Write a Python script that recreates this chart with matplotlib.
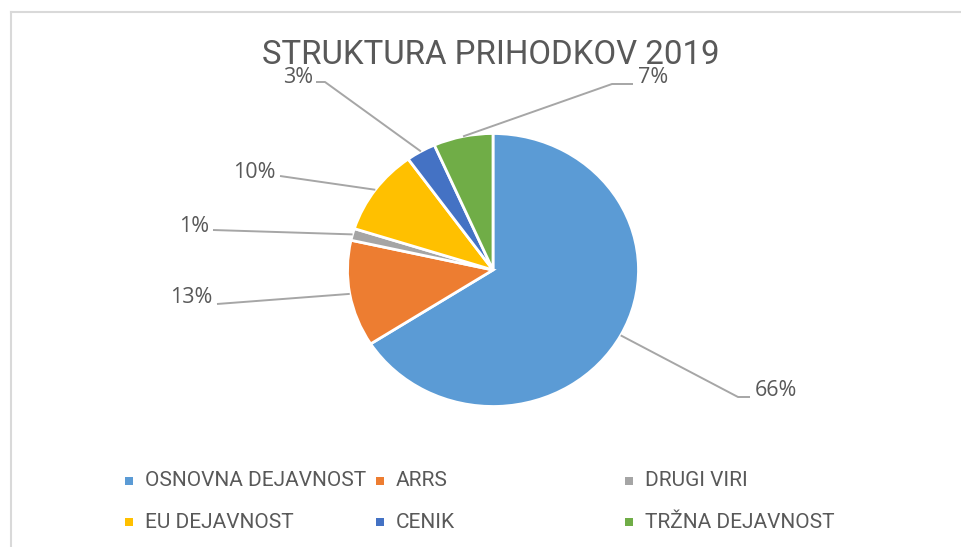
import matplotlib.pyplot as plt
from matplotlib.patches import Rectangle
from matplotlib.lines import Line2D
import numpy as np

# Podatki
kategorije = ['OSNOVNA DEJAVNOST', 'ARRS', 'DRUGI VIRI', 'EU DEJAVNOST', 'CENIK', 'TRŽNA DEJAVNOST']
deleži = [65.9, 12.6, 1.4, 10.2, 3.3, 6.6]
barve = ['#5B9BD5', '#ED7D31', '#A5A5A5', '#FFC000', '#4472C4', '#70AD47']
naslov = 'STRUKTURA PRIHODKOV 2019'

# Postavitev (v pikslih slike 961x547)
W, H = 961, 547
CX, CY = 493, 270          # središče torte
RX, RY = 145.5, 136.5      # polmer (slika je rahlo raztegnjena)

# položaj oznak: (x roba besedila, y središča, poravnava)
oznake_pos = [(755, 390, 'left'), (212, 297, 'right'), (209, 226, 'right'),
              (276, 172, 'right'), (313, 77, 'right'), (638, 77, 'left')]
# lomna točka in konec črte
prelomi = [((738, 397), (750, 397)), ((217, 304), (217, 304)), ((213, 230), (213, 230)),
           ((280, 176), (280, 176)), ((325, 82), (316, 82)), ((612, 84), (633, 84))]

siva = '#595959'
crta = '#A6A6A6'
font_naslov = ['Roboto', 'DejaVu Sans']
font_oznake = ['Open Sans', 'DejaVu Sans']


def px(x, y):
    return (x - CX) / RX, (CY - y) / RY


fig = plt.figure(figsize=(W / 100, H / 100), dpi=100)
ax = fig.add_axes([0, 0, 1, 1])

wedges, _ = ax.pie(deleži, colors=barve, startangle=90, counterclock=False,
                   wedgeprops=dict(edgecolor='white', linewidth=2))
ax.set_aspect('auto')
ax.set_xlim(-CX / RX, (W - CX) / RX)
ax.set_ylim(-(H - CY) / RY, CY / RY)
ax.axis('off')

# oznake z odstotki in povezovalne črte
skupaj = sum(deleži)
for w, d, (tx, ty, ha), (p1, p2) in zip(wedges, deleži, oznake_pos, prelomi):
    kot = np.deg2rad((w.theta1 + w.theta2) / 2)
    x0, y0 = np.cos(kot), np.sin(kot)
    x1, y1 = px(*p1)
    x2, y2 = px(*p2)
    ax.plot([x0, x1, x2], [y0, y1, y2], color=crta, lw=1.4, clip_on=False,
            solid_capstyle='butt')
    lx, ly = px(tx, ty)
    ax.text(lx, ly, f'{d / skupaj * 100:.0f}%', ha=ha, va='center',
            fontsize=15.5, color=siva, family=font_oznake)

# naslov
fig.text(490.5 / W, 1 - 64 / H, naslov, ha='center', va='baseline',
         fontsize=23.8, color=siva, family=font_naslov)

# legenda
leg_x = [129, 380, 629]
leg_y = [481, 522]
for i, (ime, b) in enumerate(zip(kategorije, barve)):
    mx = leg_x[i % 3]
    my = leg_y[i // 3]
    fig.patches.append(Rectangle(((mx - 4) / W, 1 - (my + 4) / H), 8 / W, 8 / H,
                                 transform=fig.transFigure, facecolor=b, edgecolor='none'))
    fig.text((mx + 16) / W, 1 - my / H, ime, ha='left', va='center',
             fontsize=15, color=siva, family=font_naslov)

# okvir grafa (zgoraj in levo)
fig.add_artist(Line2D([11 / W, 1], [1 - 12 / H, 1 - 12 / H], transform=fig.transFigure,
                      color='#D9D9D9', lw=1.5))
fig.add_artist(Line2D([11 / W, 11 / W], [0, 1 - 12 / H], transform=fig.transFigure,
                      color='#D9D9D9', lw=1.5))

plt.savefig('out.png', dpi=100, facecolor='white')
plt.close()
